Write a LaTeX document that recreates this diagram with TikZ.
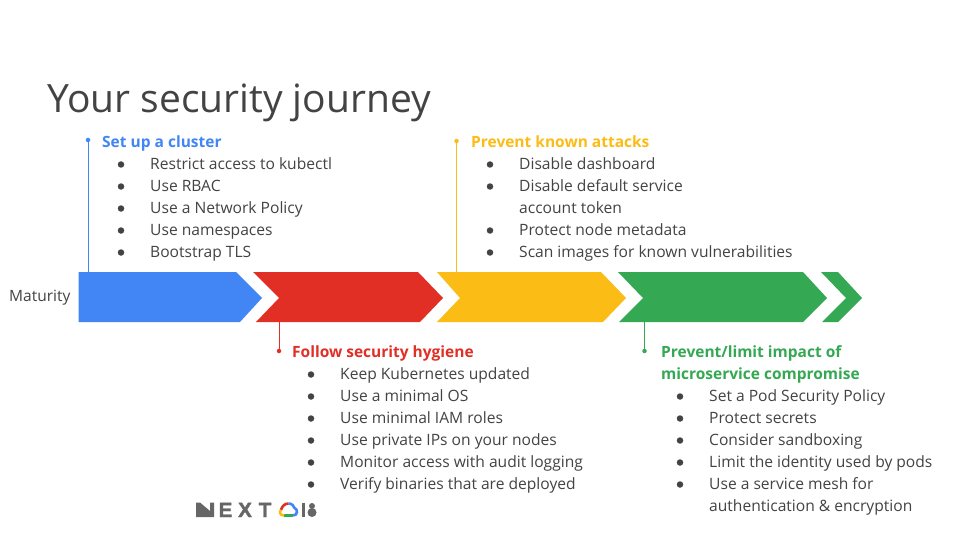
\documentclass[tikz,border=0pt]{standalone}
\usepackage{fontspec}
\setmainfont{Open Sans}
\newfontfamily\logofont{Liberation Sans}[BoldFeatures={FakeBold=2}]
\definecolor{gblue}{HTML}{4285F4}
\definecolor{gred}{HTML}{E22F25}
\definecolor{gyellow}{HTML}{FBBC15}
\definecolor{ggreen}{HTML}{34A853}
\definecolor{ink}{HTML}{434343}
\definecolor{logogray}{HTML}{666666}
\tikzset{
  x=1pt,y=-1pt,
  bodytext/.style={anchor=base west,inner sep=0pt,text=ink,font=\fontsize{15.6}{18}\selectfont},
  bulletdot/.style={circle,fill=ink,inner sep=0pt,minimum size=6.5pt},
  headtext/.style={anchor=base west,inner sep=0pt,font=\bfseries\fontsize{15.5}{18}\selectfont},
  leader/.style={line width=1pt},
  enddot/.style={circle,inner sep=0pt,minimum size=4.5pt},
  logoletter/.style={anchor=base,inner sep=0pt,text=logogray,font=\logofont\bfseries\fontsize{20.5}{20.5}\selectfont},
  cloudline/.style={line width=2.6pt},
}
\newcommand{\bul}[4]{% x-bullet, x-text, baseline, text
  \node[bulletdot] at (#1,#3-5) {};
  \node[bodytext] at (#2,#3) {#4};}
\begin{document}
\begin{tikzpicture}
\useasboundingbox (0,0) rectangle (960,540);
\fill[white] (0,0) rectangle (960,540);
\node[anchor=base west,inner sep=0pt,text=ink,font=\fontsize{39}{46}\selectfont] (title) at (47,113) {Your security journey};
\node[anchor=base west,inner sep=0pt,text=ink,font=\fontsize{15.5}{18}\selectfont] (maturity) at (9,301) {Maturity};
% arrows
\fill[gblue] (78.5,272) -- (236,272) -- (262,298) -- (240,322) -- (78.5,322) -- cycle;
\fill[gred] (253,272) -- (418,272) -- (443,298) -- (420,322) -- (256,322) -- (279,298) -- cycle;
\fill[gyellow] (437,272) -- (601,272) -- (626,298) -- (603,322) -- (437,322) -- (460,298) -- cycle;
\fill[ggreen] (618,272) -- (803,272) -- (827,298) -- (803,322) -- (619,322) -- (643,298) -- cycle;
\fill[ggreen] (821,272) -- (838,272) -- (862,298) -- (838,322) -- (822,322) -- (846,298) -- cycle;
% leaders
\coordinate (b0) at (88,272);
\node[enddot,fill=gblue] (b1) at (88,140) {};
\draw[leader,gblue] (b0) -- (b1);
\coordinate (r0) at (279,322);
\node[enddot,fill=gred] (r1) at (279,351) {};
\draw[leader,gred] (r0) -- (r1);
\coordinate (y0) at (456.5,272);
\node[enddot,fill=gyellow] (y1) at (456.5,141) {};
\draw[leader,gyellow] (y0) -- (y1);
\coordinate (g0) at (644.5,322);
\node[enddot,fill=ggreen] (g1) at (644.5,351) {};
\draw[leader,ggreen] (g0) -- (g1);
% blue block
\node[headtext,text=gblue] at (102,147.5) {Set up a cluster};
\bul{121}{150}{169.5}{Restrict access to kubectl}
\bul{121}{150}{191.5}{Use RBAC}
\bul{121}{150}{213.5}{Use a Network Policy}
\bul{121}{150}{235.5}{Use namespaces}
\bul{121}{150}{257.5}{Bootstrap TLS}
% yellow block
\node[headtext,text=gyellow] at (471,147.5) {Prevent known attacks};
\bul{490}{519}{169.5}{Disable dashboard}
\bul{490}{519}{191.5}{Disable default service}
\node[bodytext] at (519,213.5) {account token};
\bul{490}{519}{235.5}{Protect node metadata}
\bul{490}{519}{257.5}{Scan images for known vulnerabilities}
% red block
\node[headtext,text=gred] at (292,357.5) {Follow security hygiene};
\bul{311}{340}{379.5}{Keep Kubernetes updated}
\bul{311}{340}{401.5}{Use a minimal OS}
\bul{311}{340}{423.5}{Use minimal IAM roles}
\bul{311}{340}{445.5}{Use private IPs on your nodes}
\bul{311}{340}{467.5}{Monitor access with audit logging}
\bul{311}{340}{489.5}{Verify binaries that are deployed}
% green block
\node[headtext,text=ggreen] at (661,357.5) {Prevent/limit impact of};
\node[headtext,text=ggreen] at (661,379.5) {microservice compromise};
\bul{680}{709}{401.5}{Set a Pod Security Policy}
\bul{680}{709}{423.5}{Protect secrets}
\bul{680}{709}{445.5}{Consider sandboxing}
\bul{680}{709}{467.5}{Limit the identity used by pods}
\bul{680}{709}{489.5}{Use a service mesh for}
\node[bodytext] at (709,511.5) {authentication \& encryption};
% logo
\fill[logogray] (196,502.5) -- (200,502.5) -- (210,511) -- (210,502.5) -- (214,502.5) -- (214,517) -- (196,517) -- cycle;
\node[logoletter] at (225.5,517) {E};
\node[logoletter] at (245,517) {X};
\node[logoletter] at (265,517) {T};
\draw[cloudline,gred] (281,510) .. controls (282,506) and (285,503.5) .. (288.5,503.5);
\draw[cloudline,gblue] (288.5,503.5) .. controls (292,503.5) and (294,506) .. (294.5,508) .. controls (298,509) and (298,515.5) .. (293,515.5);
\draw[cloudline,ggreen] (293,515.5) -- (284,515.5);
\draw[cloudline,gyellow] (284,515.5) .. controls (280,515.5) and (279,511.5) .. (281,510);
\fill[logogray] (302,503) rectangle (305,517);
\fill[logogray] (312,506) circle[radius=3];
\fill[logogray] (312,512.5) circle[radius=4.5];
\end{tikzpicture}
\end{document}
